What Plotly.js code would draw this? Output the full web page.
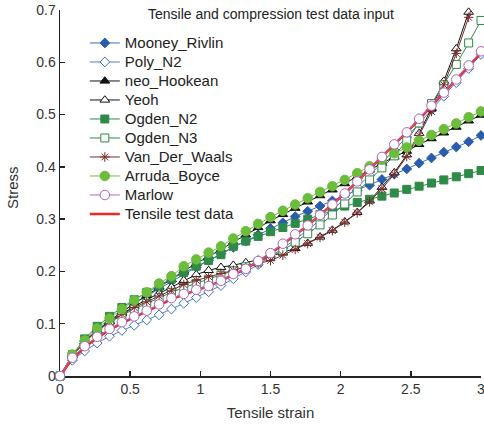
<!DOCTYPE html>
<html>
<head>
<meta charset="utf-8">
<script src="https://cdn.plot.ly/plotly-3.0.1.min.js"></script>
<style>html,body{margin:0;padding:0;background:#fff;}#chart{width:484px;height:428px;}</style>
</head>
<body>
<div id="chart"></div>
<script>
// Strain points (35 points, 0 to 3)
const strain = [0,0.088,0.176,0.265,0.353,0.441,0.529,0.618,0.706,0.794,0.882,0.971,1.059,1.147,1.235,1.324,1.412,1.5,1.588,1.676,1.765,1.853,1.941,2.029,2.118,2.206,2.294,2.382,2.471,2.559,2.647,2.735,2.824,2.912,3.0];

const mooneyRivlin = [0,0.039,0.066,0.088,0.106,0.123,0.139,0.153,0.167,0.181,0.195,0.208,0.221,0.234,0.246,0.258,0.270,0.282,0.293,0.305,0.315,0.325,0.335,0.345,0.355,0.365,0.376,0.386,0.396,0.407,0.417,0.428,0.438,0.448,0.460];
const polyN2 = [0,0.030,0.048,0.063,0.076,0.087,0.097,0.107,0.117,0.128,0.139,0.150,0.161,0.173,0.186,0.199,0.213,0.228,0.244,0.261,0.279,0.298,0.318,0.339,0.361,0.384,0.408,0.432,0.457,0.483,0.509,0.535,0.561,0.588,0.615];
const neoHookean = [0,0.039,0.065,0.087,0.105,0.122,0.139,0.154,0.170,0.185,0.201,0.215,0.228,0.242,0.256,0.270,0.284,0.297,0.309,0.321,0.333,0.345,0.356,0.368,0.381,0.394,0.407,0.419,0.430,0.443,0.454,0.465,0.476,0.488,0.499];
const yeoh = [0,0.040,0.066,0.087,0.104,0.119,0.133,0.146,0.158,0.170,0.183,0.194,0.202,0.208,0.212,0.217,0.222,0.229,0.236,0.244,0.254,0.266,0.279,0.295,0.313,0.335,0.361,0.389,0.423,0.464,0.512,0.564,0.626,0.696,0.776];
const ogdenN2 = [0,0.041,0.071,0.095,0.114,0.131,0.146,0.160,0.173,0.186,0.198,0.210,0.221,0.232,0.248,0.258,0.267,0.276,0.284,0.292,0.300,0.309,0.317,0.325,0.332,0.338,0.344,0.350,0.357,0.363,0.369,0.375,0.381,0.387,0.393];
const ogdenN3 = [0,0.038,0.065,0.086,0.102,0.116,0.128,0.139,0.150,0.160,0.169,0.177,0.185,0.193,0.201,0.209,0.218,0.228,0.240,0.256,0.272,0.289,0.308,0.329,0.352,0.375,0.398,0.421,0.450,0.484,0.521,0.557,0.596,0.637,0.680];
const vanDerWaals = [0,0.040,0.067,0.088,0.104,0.118,0.131,0.142,0.153,0.163,0.175,0.183,0.190,0.196,0.202,0.208,0.215,0.221,0.231,0.242,0.253,0.265,0.278,0.294,0.312,0.333,0.358,0.386,0.420,0.460,0.506,0.557,0.617,0.686,0.765];
const arrudaBoyce = [0,0.041,0.068,0.091,0.110,0.128,0.145,0.160,0.177,0.191,0.210,0.223,0.236,0.248,0.263,0.277,0.291,0.304,0.316,0.328,0.340,0.352,0.363,0.375,0.388,0.401,0.414,0.426,0.437,0.450,0.461,0.472,0.483,0.495,0.506];
const marlow = [0,0.035,0.057,0.075,0.090,0.103,0.114,0.125,0.137,0.149,0.157,0.165,0.172,0.182,0.195,0.205,0.220,0.235,0.253,0.271,0.288,0.308,0.328,0.349,0.372,0.395,0.419,0.443,0.466,0.492,0.517,0.542,0.567,0.594,0.621];
const testData = [0,0.033,0.055,0.073,0.088,0.101,0.112,0.123,0.135,0.147,0.156,0.164,0.172,0.182,0.194,0.205,0.219,0.234,0.252,0.270,0.288,0.308,0.328,0.349,0.372,0.395,0.419,0.443,0.466,0.491,0.516,0.541,0.566,0.592,0.618];

const names = ['Mooney_Rivlin','Poly_N2','neo_Hookean','Yeoh','Ogden_N2','Ogden_N3','Van_Der_Waals','Arruda_Boyce','Marlow','Tensile test data'];
const tickX = [0,0.5,1,1.5,2,2.5,3];
const tickXText = ['0','0.5','1','1.5','2','2.5','3'];
const tickY = [0,0.1,0.2,0.3,0.4,0.5,0.6,0.7];
const tickYText = ['0','0.1','0.2','0.3','0.4','0.5','0.6','0.7'];

const lg = n => '<span style="font-size:15px">' + n + '</span>';

function tr(name, y, lineColor, symbol, markerFill, markerLine, size, rank) {
  return {
    x: strain, y: y, name: lg(name), type: 'scatter', mode: 'lines+markers',
    line: {color: lineColor, width: 1},
    marker: {symbol: symbol, size: size, color: markerFill, line: {color: markerLine, width: 1}},
    cliponaxis: false, legendrank: rank
  };
}

const traces = [
  tr(names[0], mooneyRivlin, '#3b6fc0', 'diamond', '#2a5cae', '#2a5cae', 7.5, 1),
  tr(names[1], polyN2, '#4f7fcc', 'diamond', '#ffffff', '#3b6fc0', 7.5, 2),
  tr(names[2], neoHookean, '#111111', 'triangle-up', '#111111', '#111111', 8.5, 3),
  tr(names[3], yeoh, '#111111', 'triangle-up', '#ffffff', '#111111', 8.5, 4),
  tr(names[4], ogdenN2, '#2f8a47', 'square', '#2f8a47', '#2f8a47', 8, 5),
  tr(names[5], ogdenN3, '#2f8a47', 'square', '#ffffff', '#2f8a47', 8, 6),
  tr(names[6], vanDerWaals, '#7a2a2a', 'asterisk', '#7a2a2a', '#7a2a2a', 8, 7),
  tr(names[7], arrudaBoyce, '#6cbd3c', 'circle', '#6cbd3c', '#6cbd3c', 9.5, 8),
  {x: strain, y: testData, name: lg(names[9]), type: 'scatter', mode: 'lines',
   line: {color: '#e82a2a', width: 2.5}, legendrank: 10},
  tr(names[8], marlow, '#b566c2', 'circle', '#ffffff', '#b060bc', 9.5, 9)
];

const layout = {
  width: 484, height: 428,
  margin: {l: 60, r: 3, t: 10, b: 52},
  paper_bgcolor: '#ffffff', plot_bgcolor: '#ffffff',
  font: {family: 'Liberation Sans, Arial, sans-serif', size: 14, color: '#333333'},
  showlegend: true,
  legend: {x: 0.059, y: 0.9495, xanchor: 'left', yanchor: 'top', bgcolor: 'rgba(0,0,0,0)',
           font: {size: 12, color: '#222222'}, traceorder: 'normal', tracegroupgap: 0},
  xaxis: {
    range: [0, 3], tickvals: tickX, ticktext: tickXText, ticklabeloverflow: 'allow',
    ticks: 'inside', ticklen: 5, tickwidth: 1.5, tickcolor: '#222',
    showline: true, linecolor: '#222', linewidth: 1.5, showgrid: false, zeroline: false,
    title: {text: 'Tensile strain', font: {size: 15, color: '#333'}, standoff: 11},
    tickfont: {size: 14, color: '#333'}, layer: 'below traces'
  },
  yaxis: {
    range: [0, 0.7], tickvals: tickY, ticktext: tickYText,
    ticks: 'inside', ticklen: 5, tickwidth: 1.5, tickcolor: '#222',
    showline: true, linecolor: '#222', linewidth: 1.5, showgrid: false, zeroline: false,
    tickfont: {size: 14, color: '#333'}, layer: 'below traces'
  },
  annotations: [{
    text: 'Tensile and compression test data input', xref: 'paper', yref: 'paper',
    x: 0.5, y: 0.989, xanchor: 'center', yanchor: 'middle', showarrow: false,
    font: {size: 14, color: '#222'}
  }, {
    text: 'Stress', xref: 'paper', yref: 'paper', x: -0.1116, y: 0.514,
    xanchor: 'center', yanchor: 'middle', textangle: -90, showarrow: false,
    font: {size: 15, color: '#333'}
  }]
};

Plotly.newPlot('chart', traces, layout, {displayModeBar: false, staticPlot: true});
</script>
</body>
</html>
